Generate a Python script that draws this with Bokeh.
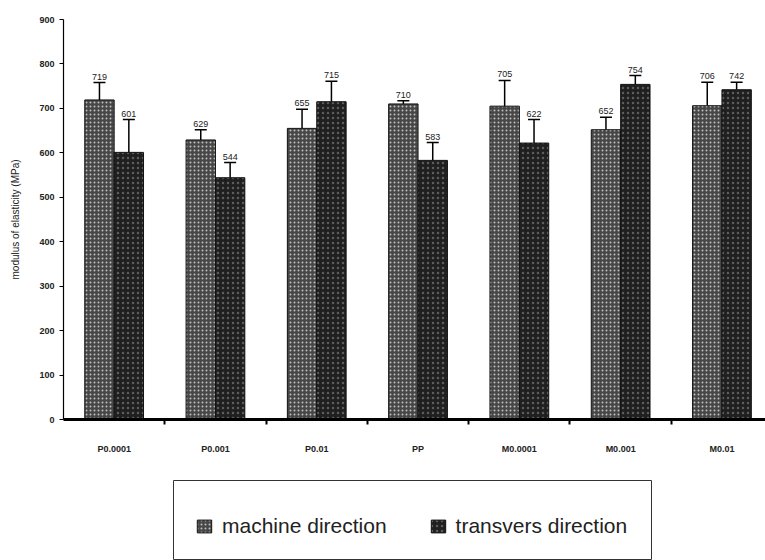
from bokeh.plotting import figure
from bokeh.models import (Range1d, LinearAxis, FixedTicker, Whisker, TeeHead,
                          ColumnDataSource, Legend, LegendItem, Spacer)
from bokeh.layouts import column, row
from bokeh.embed import file_html
from bokeh.resources import INLINE
from bokeh.core.properties import value

# Modulus of elasticity per sample, machine vs transverse direction
categories = ["P0.0001", "P0.001", "P0.01", "PP", "M0.0001", "M0.001", "M0.01"]
machine = [719, 629, 655, 710, 705, 652, 706]
machine_err = [39, 23, 43, 7, 58, 28, 53]
transvers = [601, 544, 715, 583, 622, 754, 742]
transvers_err = [74, 34, 46, 40, 53, 20, 17]
y_ticks = [0, 100, 200, 300, 400, 500, 600, 700, 800, 900]

FONT = "Liberation Sans"
BAR_W = 0.29

centers = [i + 0.5 for i in range(len(categories))]
bounds = list(range(1, len(categories)))


def make_source(xs, vals, errs):
    return ColumnDataSource(dict(
        x=xs, top=vals,
        up=[v + e for v, e in zip(vals, errs)],
        lo=[v - e for v, e in zip(vals, errs)],
        label=[str(v) for v in vals],
    ))


src_m = make_source([c - BAR_W / 2 for c in centers], machine, machine_err)
src_t = make_source([c + BAR_W / 2 for c in centers], transvers, transvers_err)

style_m = dict(fill_color="#474747", line_color="#111111", line_width=1,
               hatch_pattern="dot", hatch_color="white", hatch_alpha=0.65,
               hatch_scale=4, hatch_weight=1)
style_t = dict(fill_color="#1f1f1f", line_color="#111111", line_width=1,
               hatch_pattern="dot", hatch_color="white", hatch_alpha=0.28,
               hatch_scale=5, hatch_weight=1)

p = figure(width=765, height=480, x_range=Range1d(0, 6.93), y_range=Range1d(0, 900),
           output_backend="svg", toolbar_location=None,
           x_axis_location=None, y_axis_location=None,
           min_border_left=63, min_border_right=0, min_border_top=19, min_border_bottom=61)
p.outline_line_color = None
p.grid.grid_line_color = None
p.background_fill_color = "white"

# y axis
yaxis = LinearAxis(ticker=FixedTicker(ticks=y_ticks),
                   axis_label="modulus of elasticity (MPa)",
                   axis_label_text_font=FONT, axis_label_text_font_size="10px",
                   axis_label_text_font_style="normal", axis_label_text_color="#222222",
                   axis_label_standoff=15,
                   major_label_text_font=FONT, major_label_text_font_size="9px",
                   major_label_text_font_style="bold", major_label_text_color="#222222",
                   major_tick_out=4, major_tick_in=0, minor_tick_out=0, minor_tick_in=0,
                   axis_line_color="black", axis_line_width=1.2,
                   major_tick_line_color="black")
p.add_layout(yaxis, "left")

# x axis: labels under each group, short ticks between groups
xaxis = LinearAxis(ticker=FixedTicker(ticks=centers, minor_ticks=bounds),
                   major_label_overrides={c: name for c, name in zip(centers, categories)},
                   major_label_text_font=FONT, major_label_text_font_size="9px",
                   major_label_text_font_style="bold", major_label_text_color="#222222",
                   major_label_standoff=19,
                   major_tick_out=0, major_tick_in=0,
                   minor_tick_out=5, minor_tick_in=0,
                   minor_tick_line_color="black", minor_tick_line_width=2,
                   axis_line_color="black", axis_line_width=3)
p.add_layout(xaxis, "below")

p.vbar(x="x", top="top", width=BAR_W, source=src_m, **style_m)
p.vbar(x="x", top="top", width=BAR_W, source=src_t, **style_t)

# error bars: dark above the bar top, light inside the bar
for src, inner in ((src_m, "#dddddd"), (src_t, "#666666")):
    p.add_layout(Whisker(base="x", upper="up", lower="top", source=src,
                         line_color="black", line_width=1.5,
                         upper_head=TeeHead(size=12, line_color="black", line_width=1.5),
                         lower_head=None))
    p.add_layout(Whisker(base="x", upper="top", lower="lo", source=src,
                         line_color=inner, line_width=1.5, upper_head=None,
                         lower_head=TeeHead(size=12, line_color=inner, line_width=1.5)))
    p.text(x="x", y="up", text="label", source=src, text_align="center",
           text_baseline="middle", y_offset=-6, text_font=value(FONT),
           text_font_size="9px", text_color="#222222")

# legend box (swatch renderers sit outside the box's visible range)
p2 = figure(width=479, height=80, x_range=Range1d(0, 1), y_range=Range1d(0, 1),
            output_backend="svg", toolbar_location=None,
            x_axis_location=None, y_axis_location=None, min_border=0)
p2.grid.grid_line_color = None
p2.outline_line_color = "#333333"
p2.outline_line_width = 1
d_m = p2.vbar(x=[5], top=[1], width=0.1, **style_m)
d_t = p2.vbar(x=[5], top=[1], width=0.1, **style_t)
legend = Legend(items=[LegendItem(label="machine direction", renderers=[d_m]),
                       LegendItem(label="transvers direction", renderers=[d_t])],
                orientation="horizontal", location=(22, 22),
                border_line_color=None, background_fill_alpha=0,
                padding=0, margin=0, spacing=42, glyph_width=18, glyph_height=16,
                label_standoff=9, label_text_font=FONT, label_text_font_size="21px",
                label_text_color="#222222")
p2.add_layout(legend)

layout = column(p, row(Spacer(width=173, height=80), p2))

open("out.html", "w").write(file_html(layout, INLINE))
